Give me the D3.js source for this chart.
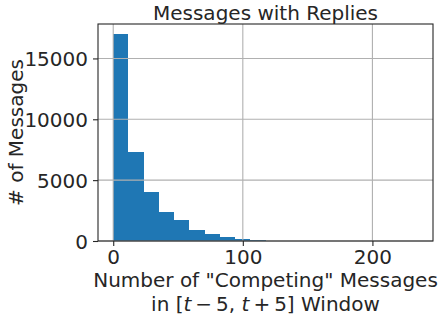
<!DOCTYPE html>
<html>
<head>
<meta charset="utf-8">
<script src="https://cdn.jsdelivr.net/npm/d3@7"></script>
<style>
  body { margin: 0; background: #fff; }
  text { font-family: 'DejaVu Sans', sans-serif; fill: #262626; }
</style>
</head>
<body>
<div id="chart"></div>
<script>
// histogram: 20 equal bins from 0 to the max value
const binMax = 235
const binCount = 20
const counts = [16980, 7320, 3985, 2400, 1750, 925, 600, 350, 190, 45, 20, 10, 6, 3, 2, 1, 1, 0, 0, 1]
const xTicks = [0, 100, 200]
const yTicks = [0, 5000, 10000, 15000]

const fontSize = 20
const margin = { top: 24, left: 98, right: 8, bottom: 77 }
const width = 441 - margin.left - margin.right
const height = 318 - margin.top - margin.bottom

const svg = d3
  .select('#chart')
  .append('svg')
  .attr('width', 441)
  .attr('height', 318)

const g = svg
  .append('g')
  .attr('transform', `translate(${margin.left},${margin.top})`)

const binWidth = binMax / binCount
const bins = counts.map((c, i) => ({ x0: i * binWidth, x1: (i + 1) * binWidth, count: c }))

// matplotlib style 5% margins
const xScale = d3
  .scaleLinear()
  .domain([-0.05 * binMax, 1.05 * binMax])
  .range([0, width])

const yScale = d3
  .scaleLinear()
  .domain([0, 1.05 * d3.max(counts)])
  .range([height, 0])

g.selectAll('.bar')
  .data(bins)
  .enter()
  .append('rect')
  .attr('class', 'bar')
  .attr('x', d => xScale(d.x0))
  .attr('width', d => xScale(d.x1) - xScale(d.x0))
  .attr('y', d => yScale(d.count))
  .attr('height', d => height - yScale(d.count))
  .attr('fill', '#1f77b4')
  .attr('shape-rendering', 'crispEdges')

// grid sits above the bars
g.selectAll('.vgrid')
  .data(xTicks)
  .enter()
  .append('line')
  .attr('x1', d => xScale(d))
  .attr('x2', d => xScale(d))
  .attr('y1', 0)
  .attr('y2', height)
  .attr('stroke', '#b0b0b0')
  .attr('stroke-width', 1.1)

g.selectAll('.hgrid')
  .data(yTicks)
  .enter()
  .append('line')
  .attr('x1', 0)
  .attr('x2', width)
  .attr('y1', d => yScale(d))
  .attr('y2', d => yScale(d))
  .attr('stroke', '#b0b0b0')
  .attr('stroke-width', 1.1)

const xAxis = g
  .append('g')
  .attr('transform', `translate(0,${height})`)
  .call(d3.axisBottom(xScale).tickValues(xTicks).tickSize(5).tickPadding(3).tickFormat(d3.format('d')))

const yAxis = g
  .append('g')
  .call(d3.axisLeft(yScale).tickValues(yTicks).tickSize(5).tickPadding(5).tickFormat(d3.format('d')))

;[xAxis, yAxis].forEach(ax => {
  ax.select('.domain').remove()
  ax.selectAll('line').attr('stroke', '#262626').attr('stroke-width', 1.1)
  ax.selectAll('text')
    .style('font-size', fontSize + 'px')
    .attr('fill', '#262626')
})
xAxis.selectAll('text').attr('dy', '0.76em')
yAxis.selectAll('text').attr('dy', '0.36em')

// frame
g.append('rect')
  .attr('width', width)
  .attr('height', height)
  .attr('fill', 'none')
  .attr('stroke', '#262626')
  .attr('stroke-width', 1.1)

svg.append('text')
  .attr('x', margin.left + width / 2)
  .attr('y', 19.5)
  .attr('text-anchor', 'middle')
  .style('font-size', fontSize + 'px')
  .text('Messages with Replies')

svg.append('text')
  .attr('transform', `translate(23,${margin.top + height / 2}) rotate(-90)`)
  .attr('text-anchor', 'middle')
  .style('font-size', fontSize + 'px')
  .text('# of Messages')

svg.append('text')
  .attr('x', margin.left + width / 2)
  .attr('y', 287)
  .attr('text-anchor', 'middle')
  .style('font-size', fontSize + 'px')
  .text('Number of "Competing" Messages')

const line2 = svg.append('text')
  .attr('x', margin.left + width / 2)
  .attr('y', 311)
  .attr('text-anchor', 'middle')
  .style('font-size', fontSize + 'px')
  .style('white-space', 'pre')
line2.append('tspan').text('in [')
line2.append('tspan').style('font-style', 'italic').text('t')
line2.append('tspan').text('\u2009\u2212\u20095, ')
line2.append('tspan').style('font-style', 'italic').text('t')
line2.append('tspan').text('\u2009+\u20095] Window')
</script>
</body>
</html>
